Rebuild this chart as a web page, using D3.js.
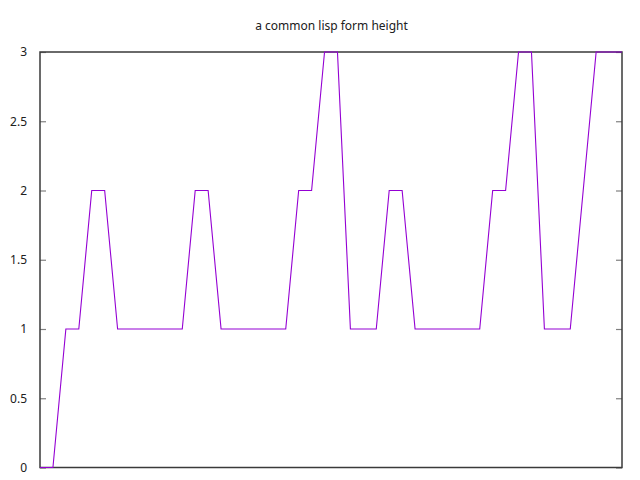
<!DOCTYPE html>
<html>
<head>
<meta charset="utf-8">
<script src="https://cdn.jsdelivr.net/npm/d3@7"></script>
<style>
  html, body { margin: 0; padding: 0; background: #fff; }
  svg { display: block; }
</style>
</head>
<body>
<svg id="chart" width="640" height="480"></svg>
<script>
const titleText = "a common lisp form height";
const heights = [0, 0, 1, 1, 2, 2, 1, 1, 1, 1, 1, 1, 2, 2, 1, 1, 1, 1, 1, 1,
                 2, 2, 3, 3, 1, 1, 1, 2, 2, 1, 1, 1, 1, 1, 1, 2, 2, 3, 3, 1,
                 1, 1, 2, 3, 3, 3];
const yTicks = [0, 0.5, 1, 1.5, 2, 2.5, 3];
const yTickLabels = ["0", "0.5", "1", "1.5", "2", "2.5", "3"];

const svg = d3.select("#chart");
const margin = { left: 40, right: 18, top: 52, bottom: 12.5 };
const W = 640, H = 480;
const x0 = margin.left, x1 = W - margin.right, y0 = H - margin.bottom, y1 = margin.top;

const x = d3.scaleLinear().domain([0, heights.length - 1]).range([x0, x1]);
const y = d3.scaleLinear().domain([0, 3]).range([y0, y1]);

const font = "'Noto Sans', 'DejaVu Sans', sans-serif";

// left axis ticks + labels
const leftAxis = d3.axisLeft(y).tickValues(yTicks)
  .tickFormat((d, i) => yTickLabels[i]).tickSizeInner(-6).tickSizeOuter(0).tickPadding(13);
const gl = svg.append("g").attr("transform", `translate(${x0},0)`).call(leftAxis);
gl.select(".domain").remove();
gl.selectAll(".tick line").attr("stroke", "#808080").attr("stroke-width", 1.2);
gl.selectAll(".tick text").attr("fill", "#202020").style("font-family", font).style("font-size", "12px");

// right mirrored ticks
const rightAxis = d3.axisRight(y).tickValues(yTicks).tickFormat("").tickSizeInner(-6).tickSizeOuter(0);
const gr = svg.append("g").attr("transform", `translate(${x1},0)`).call(rightAxis);
gr.select(".domain").remove();
gr.selectAll(".tick line").attr("stroke", "#808080").attr("stroke-width", 1.2);

// border
svg.append("rect")
  .attr("x", x0).attr("y", y1)
  .attr("width", x1 - x0).attr("height", y0 - y1)
  .attr("fill", "none").attr("stroke", "#3a3a3a").attr("stroke-width", 1.5);

// data line
const line = d3.line().x((d, i) => x(i)).y(d => y(d));
svg.append("path").datum(heights)
  .attr("d", line)
  .attr("fill", "none")
  .attr("stroke", "#9400d3")
  .attr("stroke-width", 1.1)
  .attr("stroke-linejoin", "miter");

// title
svg.append("text")
  .attr("x", (x0 + x1) / 2 + 0.5).attr("y", 30)
  .attr("text-anchor", "middle")
  .attr("fill", "#202020")
  .style("font-family", font).style("font-size", "12px")
  .text(titleText);
</script>
</body>
</html>
